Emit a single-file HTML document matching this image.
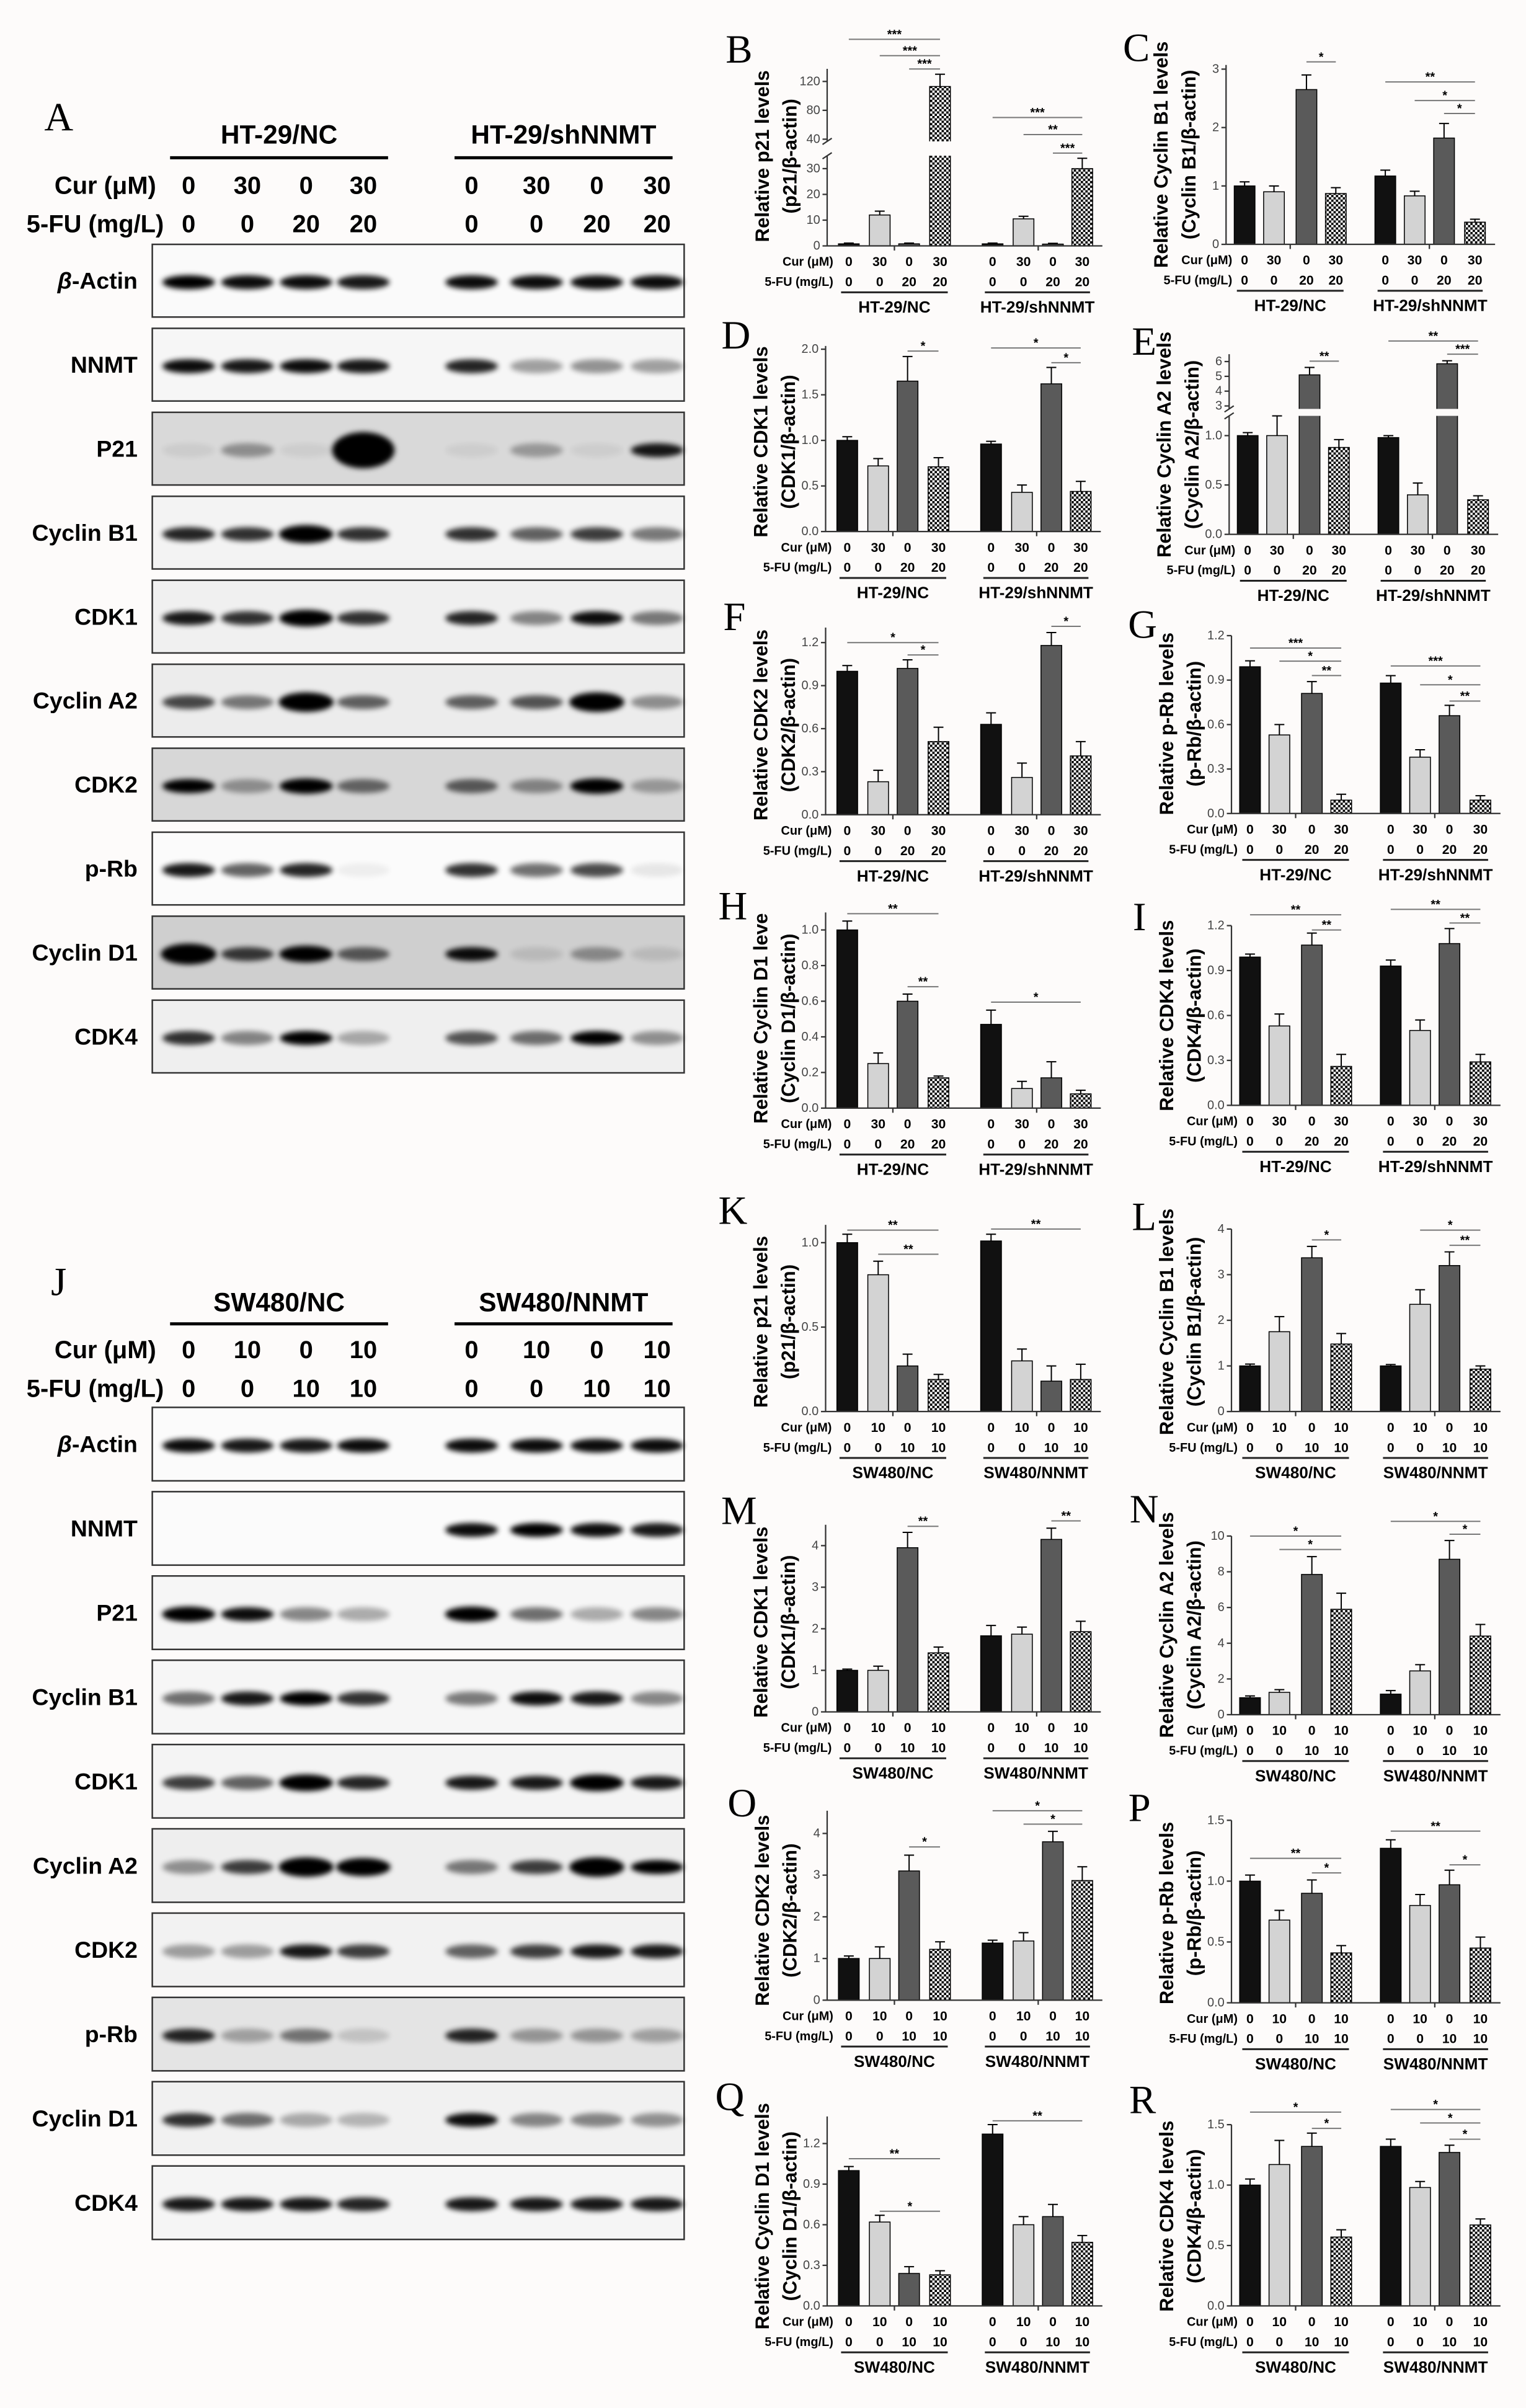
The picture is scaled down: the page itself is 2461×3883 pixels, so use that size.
<!DOCTYPE html>
<html><head><meta charset="utf-8"><style>html,body{margin:0;padding:0;background:#fdfbfa}svg{display:block}</style></head>
<body>
<svg id="fig" xmlns="http://www.w3.org/2000/svg" width="2461" height="3883" viewBox="0 0 987 1557" preserveAspectRatio="none" font-family="'Liberation Sans', Arial, sans-serif">
<defs>
<pattern id="chk" width="3" height="3" patternUnits="userSpaceOnUse"><rect width="3" height="3" fill="#fff"/><rect width="1.5" height="1.5" fill="#000"/><rect x="1.5" y="1.5" width="1.5" height="1.5" fill="#000"/></pattern>
<filter id="blur" x="-50%" y="-100%" width="200%" height="300%"><feGaussianBlur stdDeviation="1.7"/></filter>
</defs>
<rect width="987" height="1557" fill="#fdfbfa"/>
</svg>
<script>
// ---------- shared category labels ----------
const groupsTop = ["HT-29/NC", "HT-29/shNNMT"];
const curTop = ["0", "30", "0", "30"];
const fuTop = ["0", "0", "20", "20"];
const groupsBot = ["SW480/NC", "SW480/NNMT"];
const curBot = ["0", "10", "0", "10"];
const fuBot = ["0", "0", "10", "10"];

// ---------- chart values ----------
const valsB = [0.8, 12, 0.8, 113, 0.8, 10.5, 0.7, 30];
const errsB = [0.3, 1.5, 0.3, 17, 0.3, 1.0, 0.3, 4];
const valsC = [1.0, 0.9, 2.65, 0.87, 1.17, 0.83, 1.82, 0.38];
const errsC = [0.07, 0.1, 0.25, 0.1, 0.1, 0.08, 0.25, 0.05];
const valsD = [1.0, 0.72, 1.65, 0.71, 0.96, 0.43, 1.62, 0.44];
const errsD = [0.04, 0.08, 0.27, 0.1, 0.03, 0.08, 0.18, 0.11];
const valsE = [1.0, 1.0, 5.1, 0.88, 0.98, 0.4, 5.85, 0.35];
const errsE = [0.03, 0.2, 0.5, 0.08, 0.02, 0.12, 0.2, 0.04];
const valsF = [1.0, 0.23, 1.02, 0.51, 0.63, 0.26, 1.18, 0.41];
const errsF = [0.04, 0.08, 0.06, 0.1, 0.08, 0.1, 0.09, 0.1];
const valsG = [0.99, 0.53, 0.81, 0.09, 0.88, 0.38, 0.66, 0.09];
const errsG = [0.04, 0.07, 0.08, 0.04, 0.05, 0.05, 0.07, 0.03];
const valsH = [1.0, 0.25, 0.6, 0.17, 0.47, 0.11, 0.17, 0.08];
const errsH = [0.05, 0.06, 0.04, 0.01, 0.08, 0.04, 0.09, 0.02];
const valsI = [0.99, 0.53, 1.07, 0.26, 0.93, 0.5, 1.08, 0.29];
const errsI = [0.02, 0.08, 0.08, 0.08, 0.04, 0.07, 0.1, 0.05];
const valsK = [1.0, 0.81, 0.27, 0.19, 1.01, 0.3, 0.18, 0.19];
const errsK = [0.05, 0.08, 0.07, 0.03, 0.04, 0.07, 0.09, 0.09];
const valsL = [1.0, 1.75, 3.37, 1.48, 1.0, 2.35, 3.2, 0.93];
const errsL = [0.04, 0.33, 0.25, 0.23, 0.03, 0.32, 0.3, 0.07];
const valsM = [1.0, 1.0, 3.95, 1.42, 1.83, 1.87, 4.15, 1.93];
const errsM = [0.03, 0.1, 0.37, 0.14, 0.25, 0.17, 0.27, 0.25];
const valsN = [0.95, 1.25, 7.85, 5.9, 1.15, 2.45, 8.7, 4.4];
const errsN = [0.1, 0.15, 1.0, 0.9, 0.2, 0.35, 1.05, 0.65];
const valsO = [1.0, 1.0, 3.1, 1.22, 1.37, 1.42, 3.8, 2.87];
const errsO = [0.06, 0.28, 0.38, 0.18, 0.07, 0.2, 0.25, 0.33];
const valsP = [1.0, 0.68, 0.9, 0.41, 1.27, 0.8, 0.97, 0.45];
const errsP = [0.05, 0.08, 0.11, 0.06, 0.07, 0.09, 0.12, 0.09];
const valsQ = [1.0, 0.62, 0.24, 0.23, 1.27, 0.6, 0.66, 0.47];
const errsQ = [0.03, 0.05, 0.05, 0.03, 0.07, 0.06, 0.09, 0.05];
const valsR = [1.0, 1.17, 1.32, 0.57, 1.32, 0.98, 1.27, 0.67];
const errsR = [0.05, 0.2, 0.11, 0.06, 0.06, 0.05, 0.06, 0.05];

// ---------- tick values / labels ----------
const ticksB = [0, 10, 20, 30, 40, 80, 120];
const tickLabelsB = ["0", "10", "20", "30", "40", "80", "120"];
const ticksC = [0, 1, 2, 3];
const tickLabelsC = ["0", "1", "2", "3"];
const ticksD = [0, 0.5, 1, 1.5, 2];
const tickLabelsD = ["0.0", "0.5", "1.0", "1.5", "2.0"];
const ticksE = [0, 0.5, 1, 3, 4, 5, 6];
const tickLabelsE = ["0.0", "0.5", "1.0", "3", "4", "5", "6"];
const ticks03 = [0, 0.3, 0.6, 0.9, 1.2];
const tickLabels03 = ["0.0", "0.3", "0.6", "0.9", "1.2"];
const ticksH = [0, 0.2, 0.4, 0.6, 0.8, 1.0];
const tickLabelsH = ["0.0", "0.2", "0.4", "0.6", "0.8", "1.0"];
const ticksK = [0, 0.5, 1];
const tickLabelsK = ["0.0", "0.5", "1.0"];
const ticks4 = [0, 1, 2, 3, 4];
const tickLabels4 = ["0", "1", "2", "3", "4"];
const ticksN = [0, 2, 4, 6, 8, 10];
const tickLabelsN = ["0", "2", "4", "6", "8", "10"];
const ticks15 = [0, 0.5, 1, 1.5];
const tickLabels15 = ["0.0", "0.5", "1.0", "1.5"];

// ---------- significance brackets: [fromBar, toBar, stars, yPx] ----------
const sigB = [[0,3,"***",25.4],[1,3,"***",36],[2,3,"***",44.6],[4,7,"***",76],[5,7,"**",87],[6,7,"***",99]];
const sigC = [[2,3,"*",40],[4,7,"**",53],[5,7,"*",65],[6,7,"*",73.4]];
const sigD = [[2,3,"*",227],[4,7,"*",225],[6,7,"*",234.5]];
const sigE = [[2,3,"**",233.5],[4,7,"**",220.5],[6,7,"***",229]];
const sigF = [[0,3,"*",415.5],[2,3,"*",423.5],[6,7,"*",405]];
const sigG = [[0,3,"***",419],[1,3,"*",427.5],[2,3,"**",436.8],[4,7,"***",430.6],[5,7,"*",442.8],[6,7,"**",453.3]];
const sigH = [[0,3,"**",590.8],[2,3,"**",638],[4,7,"*",648]];
const sigI = [[0,3,"**",591.5],[2,3,"**",601.3],[4,7,"**",588],[6,7,"**",596.8]];
const sigK = [[0,3,"**",795.4],[1,3,"**",811],[4,7,"**",794.7]];
const sigL = [[2,3,"*",801.7],[5,7,"*",795.4],[6,7,"**",805.2]];
const sigM = [[2,3,"**",986.9],[6,7,"**",983.4]];
const sigN = [[0,3,"*",993.2],[1,3,"*",1001.9],[4,7,"*",983.7],[6,7,"*",992]];
const sigO = [[2,3,"*",1194.2],[4,7,"*",1170.8],[5,7,"*",1179.5]];
const sigP = [[0,3,"**",1201.6],[2,3,"*",1211],[4,7,"**",1184],[6,7,"*",1205.8]];
const sigQ = [[0,3,"**",1395.8],[1,3,"*",1429.8],[4,7,"**",1371.3]];
const sigR = [[0,3,"*",1365.7],[2,3,"*",1376.2],[4,7,"*",1364],[5,7,"*",1372.7],[6,7,"*",1383.2]];

// ---------- blot band intensities (8 lanes) ----------
const blotRowsA = ["β-Actin","NNMT","P21","Cyclin B1","CDK1","Cyclin A2","CDK2","p-Rb","Cyclin D1","CDK4"];
const bandsA = [
  [1,.95,.95,.9,.95,.95,.95,.95],
  [.95,.9,.95,.9,.85,.35,.4,.35],
  [.06,.35,.05,2.6,.05,.3,.05,.9],
  [.85,.8,1.3,.8,.8,.6,.75,.5],
  [.9,.8,1.2,.8,.85,.45,.95,.5],
  [.7,.5,1.4,.6,.6,.65,1.4,.4],
  [1,.35,1.1,.55,.6,.4,1.1,.3],
  [.9,.6,.85,.05,.8,.55,.7,.08],
  [1.5,.75,1.2,.6,.95,.1,.35,.1],
  [.8,.45,1.0,.3,.65,.55,1.0,.4]
];
const bgA = ["#fafafa","#f6f6f6","#d9d9d9","#f3f3f3","#f0f0f0","#ececec","#d7d7d7","#fbfbfb","#cfcfcf","#efefef"];
const blotRowsJ = ["β-Actin","NNMT","P21","Cyclin B1","CDK1","Cyclin A2","CDK2","p-Rb","Cyclin D1","CDK4"];
const bandsJ = [
  [.95,.9,.9,.95,.95,.95,.95,.95],
  [0,0,0,0,.95,1,.95,.9],
  [1.1,.95,.45,.3,1.1,.55,.3,.45],
  [.55,.9,1.0,.8,.5,.95,.9,.45],
  [.75,.6,1.2,.85,.9,.9,1.2,.9],
  [.4,.75,1.4,1.3,.5,.75,1.4,1.0],
  [.35,.35,.9,.75,.6,.75,.9,.9],
  [.85,.3,.5,.15,.85,.35,.35,.3],
  [.8,.55,.3,.25,.95,.45,.45,.4],
  [.9,.9,.9,.85,.9,.9,.9,.9]
];
const bgJ = ["#fbfbfb","#fbfbfb","#f6f6f6","#f6f6f6","#f4f4f4","#eeeeee","#f2f2f2","#e4e4e4","#f1f1f1","#f5f5f5"];

// ================= drawing =================
const NS = "http://www.w3.org/2000/svg";
const svg = document.getElementById("fig");
function mk(tag, parent) { const e = document.createElementNS(NS, tag); parent.appendChild(e); return e; }
function at(e, o) { for (const k in o) e.setAttribute(k, o[k]); return e; }
function txt(parent, x, y, s, size, opt) {
  const t = mk("text", parent);
  at(t, {x: x, y: y, "font-size": size, "dominant-baseline": "central", fill: "#000"});
  if (opt) at(t, opt);
  t.textContent = s;
  return t;
}

const col1Off = [14, 34, 53, 73, 107, 127, 146, 165];
const col2Off = [12, 31, 52, 71, 103, 122, 141, 161];
const fills = ["#111", "#d3d3d3", "#5a5a5a", "url(#chk)"];
const BG = "#fdfbfa";

const panels = [
 {id:"B", col:1, ax:535, base:159, segs:[[0,35,0,58.3],[37,130,67.6,111]], top:114.5, vals:valsB, errs:errsB, ticks:ticksB, tl:tickLabelsB, sig:sigB, title:["Relative p21 levels","(p21/β-actin)"], bot:false, lx:478, ly:32},
 {id:"C", col:2, ax:793, base:158, segs:[[0,3,0,113.3]], top:116, vals:valsC, errs:errsC, ticks:ticksC, tl:tickLabelsC, sig:sigC, title:["Relative Cyclin B1 levels","(Cyclin B1/β-actin)"], bot:false, lx:735, ly:31},
 {id:"D", col:1, ax:534, base:343.7, segs:[[0,2,0,117.9]], top:120, vals:valsD, errs:errsD, ticks:ticksD, tl:tickLabelsD, sig:sigD, title:["Relative CDK1 levels","(CDK1/β-actin)"], bot:false, lx:476, ly:217},
 {id:"E", col:2, ax:795, base:345.5, segs:[[0,1.2,0,76.6],[2.8,6.3,81.1,114.6]], top:116.5, vals:valsE, errs:errsE, ticks:ticksE, tl:tickLabelsE, sig:sigE, title:["Relative Cyclin A2 levels","(Cyclin A2/β-actin)"], bot:false, lx:740, ly:221},
 {id:"F", col:1, ax:534, base:526.8, segs:[[0,1.2,0,111.3]], top:121, vals:valsF, errs:errsF, ticks:ticks03, tl:tickLabels03, sig:sigF, title:["Relative CDK2 levels","(CDK2/β-actin)"], bot:false, lx:475, ly:399},
 {id:"G", col:2, ax:796.5, base:526, segs:[[0,1.2,0,115]], top:115, vals:valsG, errs:errsG, ticks:ticks03, tl:tickLabels03, sig:sigG, title:["Relative p-Rb levels","(p-Rb/β-actin)"], bot:false, lx:739, ly:404},
 {id:"H", col:1, ax:534, base:716.5, segs:[[0,1,0,115.2]], top:126.5, vals:valsH, errs:errsH, ticks:ticksH, tl:tickLabelsH, sig:sigH, title:["Relative Cyclin D1 leve","(Cyclin D1/β-actin)"], bot:false, lx:474, ly:586},
 {id:"I", col:2, ax:796.5, base:714.7, segs:[[0,1.2,0,116.2]], top:116.2, vals:valsI, errs:errsI, ticks:ticks03, tl:tickLabels03, sig:sigI, title:["Relative CDK4 levels","(CDK4/β-actin)"], bot:false, lx:737, ly:593},
 {id:"K", col:1, ax:534, base:912.7, segs:[[0,1,0,109.2]], top:120.7, vals:valsK, errs:errsK, ticks:ticksK, tl:tickLabelsK, sig:sigK, title:["Relative p21 levels","(p21/β-actin)"], bot:true, lx:474, ly:783},
 {id:"L", col:2, ax:796.5, base:912.7, segs:[[0,4,0,118]], top:118, vals:valsL, errs:errsL, ticks:ticks4, tl:tickLabels4, sig:sigL, title:["Relative Cyclin B1 levels","(Cyclin B1/β-actin)"], bot:true, lx:740, ly:787},
 {id:"M", col:1, ax:534, base:1106.9, segs:[[0,4,0,107.5]], top:121, vals:valsM, errs:errsM, ticks:ticks4, tl:tickLabels4, sig:sigM, title:["Relative CDK1 levels","(CDK1/β-actin)"], bot:true, lx:478, ly:977},
 {id:"N", col:2, ax:796.5, base:1108.7, segs:[[0,10,0,115.5]], top:115.5, vals:valsN, errs:errsN, ticks:ticksN, tl:tickLabelsN, sig:sigN, title:["Relative Cyclin A2 levels","(Cyclin A2/β-actin)"], bot:true, lx:740, ly:976},
 {id:"O", col:1, ax:535, base:1293.3, segs:[[0,4,0,107.8]], top:122.5, vals:valsO, errs:errsO, ticks:ticks4, tl:tickLabels4, sig:sigO, title:["Relative CDK2 levels","(CDK2/β-actin)"], bot:true, lx:480, ly:1166},
 {id:"P", col:2, ax:796.5, base:1295, segs:[[0,1.5,0,118]], top:118, vals:valsP, errs:errsP, ticks:ticks15, tl:tickLabels15, sig:sigP, title:["Relative p-Rb levels","(p-Rb/β-actin)"], bot:true, lx:737, ly:1169},
 {id:"Q", col:1, ax:535, base:1491, segs:[[0,1.2,0,105]], top:122.5, vals:valsQ, errs:errsQ, ticks:ticks03, tl:tickLabels03, sig:sigQ, title:["Relative Cyclin D1 levels","(Cyclin D1/β-actin)"], bot:true, lx:472, ly:1356},
 {id:"R", col:2, ax:796.5, base:1491, segs:[[0,1.5,0,117.2]], top:117.2, vals:valsR, errs:errsR, ticks:ticks15, tl:tickLabels15, sig:sigR, title:["Relative CDK4 levels","(CDK4/β-actin)"], bot:true, lx:739, ly:1358}
];

function segOff(segs, v) {
  for (let i = 0; i < segs.length; i++) {
    const s = segs[i];
    if (v <= s[1] || i === segs.length - 1) {
      if (v < s[0]) return segs[i-1] ? segs[i-1][3] : s[2];
      return s[2] + (v - s[0]) / (s[1] - s[0]) * (s[3] - s[2]);
    }
  }
}

function drawPanel(p) {
  const g = mk("g", svg);
  
  
  const off = p.col === 1 ? col1Off : col2Off;
  const xlen = p.col === 1 ? 178 : 174;
  const cx = i => p.ax + off[i];
  const y = v => p.base - segOff(p.segs, v);
  const broken = p.segs.length > 1;
  const gapLo = broken ? p.base - p.segs[0][3] : 0;
  const gapHi = broken ? p.base - p.segs[1][2] : 0;

  for (let i = 0; i < p.vals.length; i++) {
    const v = p.vals[i], e = p.errs[i], c = cx(i);
    const yt = y(v), ye = y(v + e);
    const eb = mk("line", g);
    at(eb, {x1: c, x2: c, y1: yt, y2: ye, stroke: "#000", "stroke-width": 0.8});
    
    
    const cap = mk("line", g);
    at(cap, {x1: c - 3.2, x2: c + 3.2, y1: ye, y2: ye, stroke: "#000", "stroke-width": 0.8});
    
    
    const r = mk("rect", g);
    at(r, {x: c - 6.7, y: yt, width: 13.4, height: Math.max(0.5, p.base - yt), fill: fills[i % 4], stroke: "#000", "stroke-width": 0.6});
    
    
    if (broken && v > p.segs[0][1]) {
      const gr = mk("rect", g);
      at(gr, {x: c - 7.6, y: gapHi, width: 15.2, height: gapLo - gapHi, fill: BG});
      
      
    }
  }
  const axes = mk("g", g);
  
  
  at(axes, {stroke: "#333", "stroke-width": 0.9, fill: "none"});
  if (broken) {
    at(mk("line", axes), {x1: p.ax, x2: p.ax, y1: p.base, y2: gapLo});
    at(mk("line", axes), {x1: p.ax, x2: p.ax, y1: gapHi, y2: p.base - p.top});
    at(mk("line", axes), {x1: p.ax - 3, x2: p.ax + 3, y1: gapLo + 2, y2: gapLo - 2});
    at(mk("line", axes), {x1: p.ax - 3, x2: p.ax + 3, y1: gapHi + 2, y2: gapHi - 2});
  } else {
    at(mk("line", axes), {x1: p.ax, x2: p.ax, y1: p.base, y2: p.base - p.top});
  }
  at(mk("line", axes), {x1: p.ax, x2: p.ax + xlen, y1: p.base, y2: p.base});
  const gm1 = (cx(1) + cx(2)) / 2, gm2 = (cx(5) + cx(6)) / 2;
  at(mk("line", axes), {x1: gm1, x2: gm1, y1: p.base, y2: p.base + 3});
  at(mk("line", axes), {x1: gm2, x2: gm2, y1: p.base, y2: p.base + 3});
  for (let k = 0; k < p.ticks.length; k++) {
    const ty = y(p.ticks[k]);
    at(mk("line", axes), {x1: p.ax - 3, x2: p.ax, y1: ty, y2: ty});
    const t = txt(g, p.ax - 4.5, ty, p.tl[k], 8, {"text-anchor": "end", fill: "#444"});
    
    
  }
  const tcy = p.base - 58;
  const t1 = txt(g, 0, 0, p.title[0], 12.5, {"text-anchor": "middle", "font-weight": "bold", transform: "translate(" + (p.ax - 42) + "," + tcy + ") rotate(-90)"});
  
  
  const t2 = txt(g, 0, 0, p.title[1], 12.5, {"text-anchor": "middle", "font-weight": "bold", transform: "translate(" + (p.ax - 24) + "," + tcy + ") rotate(-90)"});
  
  
  const L = txt(g, p.lx, p.ly, p.id, 26, {"text-anchor": "middle", "font-family": "'Liberation Serif', serif"});
  
  
  const cur = p.bot ? curBot : curTop, fu = p.bot ? fuBot : fuTop, grp = p.bot ? groupsBot : groupsTop;
  const rc = txt(g, p.ax + 4, p.base + 10.5, "Cur (μM)", 8, {"text-anchor": "end", "font-weight": "bold"});
  
  
  const rf = txt(g, p.ax + 4, p.base + 23.5, "5-FU (mg/L)", 8, {"text-anchor": "end", "font-weight": "bold"});
  
  
  for (let i = 0; i < 8; i++) {
    const a = txt(g, cx(i), p.base + 10.5, cur[i % 4], 8.5, {"text-anchor": "middle", "font-weight": "bold"});
    
    
    const b = txt(g, cx(i), p.base + 23.5, fu[i % 4], 8.5, {"text-anchor": "middle", "font-weight": "bold"});
    
    
  }
  for (let gi = 0; gi < 2; gi++) {
    const a = cx(gi * 4) - 5, b = cx(gi * 4 + 3) + 5;
    const ln = mk("line", g);
    at(ln, {x1: a, x2: b, y1: p.base + 30, y2: p.base + 30, stroke: "#222", "stroke-width": 1.2});
    
    
    const gt = txt(g, (a + b) / 2, p.base + 39.5, grp[gi], 10.5, {"text-anchor": "middle", "font-weight": "bold"});
    
    
  }
  for (const s of p.sig) {
    const sl = mk("line", g);
    at(sl, {x1: cx(s[0]), x2: cx(s[1]), y1: s[3], y2: s[3], stroke: "#777", "stroke-width": 0.8});
    
    
    const st = txt(g, (cx(s[0]) + cx(s[1])) / 2, s[3] - 3, s[2], 8, {"text-anchor": "middle", "font-weight": "bold"});
    
    
  }
}
panels.forEach(drawPanel);

// ---------- western blots ----------
const lanes = [122, 160, 198, 235, 305, 347, 386, 425];
function drawBlot(cfg) {
  const g = mk("g", svg);
  
  
  const L = txt(g, 38, cfg.letterY, cfg.letter, 26, {"text-anchor": "middle", "font-family": "'Liberation Serif', serif"});
  
  
  const hx = [[110, 251], [294, 435]];
  for (let gi = 0; gi < 2; gi++) {
    const h = txt(g, (hx[gi][0] + hx[gi][1]) / 2, cfg.headY, cfg.groups[gi], 17, {"text-anchor": "middle", "font-weight": "bold"});
    
    
    const ln = mk("line", g);
    at(ln, {x1: hx[gi][0], x2: hx[gi][1], y1: cfg.lineY, y2: cfg.lineY, stroke: "#000", "stroke-width": 2});
    
    
  }
  const c1 = txt(g, 101, cfg.curY, "Cur (μM)", 16, {"text-anchor": "end", "font-weight": "bold"});
  
  
  const f1 = txt(g, 106, cfg.fuY, "5-FU (mg/L)", 16, {"text-anchor": "end", "font-weight": "bold"});
  
  
  for (let i = 0; i < 8; i++) {
    const a = txt(g, lanes[i], cfg.curY, cfg.cur[i % 4], 16, {"text-anchor": "middle", "font-weight": "bold"});
    
    
    const b = txt(g, lanes[i], cfg.fuY, cfg.fu[i % 4], 16, {"text-anchor": "middle", "font-weight": "bold"});
    
    
  }
  for (let r = 0; r < cfg.rows.length; r++) {
    const top = cfg.top0 + r * cfg.step;
    const rg = mk("g", g);
    
    
    const box = mk("rect", rg);
    at(box, {x: 98.5, y: top, width: 344, height: cfg.h, fill: cfg.bg[r], stroke: "#333", "stroke-width": 1});
    
    
    const label = cfg.rows[r];
    const lab = txt(rg, 89, top + cfg.h / 2, "", 15, {"text-anchor": "end", "font-weight": "bold"});
    if (label.charAt(0) === "β") {
      const ts = mk("tspan", lab);
      ts.setAttribute("font-style", "italic");
      ts.textContent = "β";
      const ts2 = mk("tspan", lab);
      ts2.textContent = label.slice(1);
    } else {
      lab.textContent = label;
    }
    
    
    for (let i = 0; i < 8; i++) {
      const v = cfg.bands[r][i];
      if (v <= 0) continue;
      const el = mk("ellipse", rg);
      at(el, {cx: lanes[i], cy: top + cfg.h / 2 + 1, rx: 17 + (v > 1 ? (v - 1) * 2 : 0), ry: 4.5 * Math.max(1, v), fill: "#000", opacity: Math.min(1, v), filter: "url(#blur)"});
      
      
    }
  }
}
drawBlot({name: "blot-panel-a", letter: "A", letterY: 76, groups: groupsTop, cur: curTop, fu: fuTop, headY: 87, lineY: 102, curY: 120, fuY: 145, rows: blotRowsA, bands: bandsA, bg: bgA, top0: 158, step: 54.3, h: 47});
drawBlot({name: "blot-panel-j", letter: "J", letterY: 829, groups: groupsBot, cur: curBot, fu: fuBot, headY: 842, lineY: 856, curY: 873, fuY: 898, rows: blotRowsJ, bands: bandsJ, bg: bgJ, top0: 910, step: 54.5, h: 47.5});
</script>
</body></html>
